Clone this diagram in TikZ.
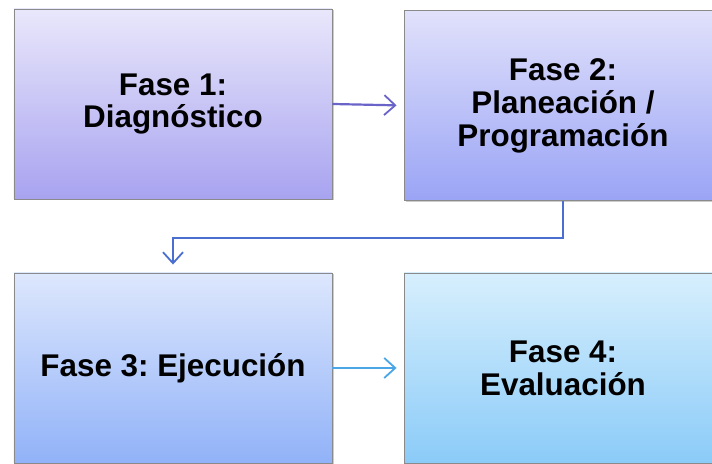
\documentclass[tikz,border=0pt]{standalone}
\usepackage{fontspec}
\setmainfont{Liberation Sans}
\usetikzlibrary{arrows.meta,shadows}
\frenchspacing
\definecolor{lav_top}{HTML}{E9E7FB}
\definecolor{lav_bot}{HTML}{A8A3F0}
\definecolor{peri_top}{HTML}{E1E1FB}
\definecolor{peri_bot}{HTML}{9AA4F5}
\definecolor{blue_top}{HTML}{DDE7FD}
\definecolor{blue_bot}{HTML}{91B2F8}
\definecolor{sky_top}{HTML}{D7EFFD}
\definecolor{sky_bot}{HTML}{8BCBF8}
\definecolor{arrow_lav}{HTML}{6A63C8}
\definecolor{arrow_blue}{HTML}{4A6FD0}
\definecolor{arrow_sky}{HTML}{4AA6E6}
\definecolor{box_edge}{HTML}{8A8A8A}
\begin{document}
\begin{tikzpicture}[x=1bp,y=1bp,
    phase/.style={draw=box_edge,line width=0.9bp,minimum width=318bp,minimum height=190bp,
      align=center,font=\fontsize{31.5}{33}\selectfont\bfseries,
      drop shadow={shadow xshift=1.5bp,shadow yshift=-1.5bp,opacity=0.4}},
    link/.style={line width=2.2bp,-{Straight Barb[length=11bp,width=20bp,line width=1.8bp]}}]
    \useasboundingbox (0,0) rectangle (712,464);
    \node[phase,top color=lav_top,bottom color=lav_bot] (ph1) at (173,360) {Fase 1:\\Diagnóstico};
    \node[phase,top color=peri_top,bottom color=peri_bot] (ph2) at (563,358.5) {Fase 2:\\Planeación /\\Programación};
    \node[phase,top color=blue_top,bottom color=blue_bot] (ph3) at (173,96) {Fase 3: Ejecución};
    \node[phase,top color=sky_top,bottom color=sky_bot] (ph4) at (563,96) {Fase 4:\\Evaluación};
    \draw[link,arrow_lav,shorten >=7bp] (ph1.east) -- (ph2.west);
    \draw[link,arrow_blue,shorten >=8bp] (ph2.south) -- ++(0,-37) -| (ph3.north);
    \draw[link,arrow_sky,shorten >=7bp] (ph3.east) -- (ph4.west);
\end{tikzpicture}
\end{document}
